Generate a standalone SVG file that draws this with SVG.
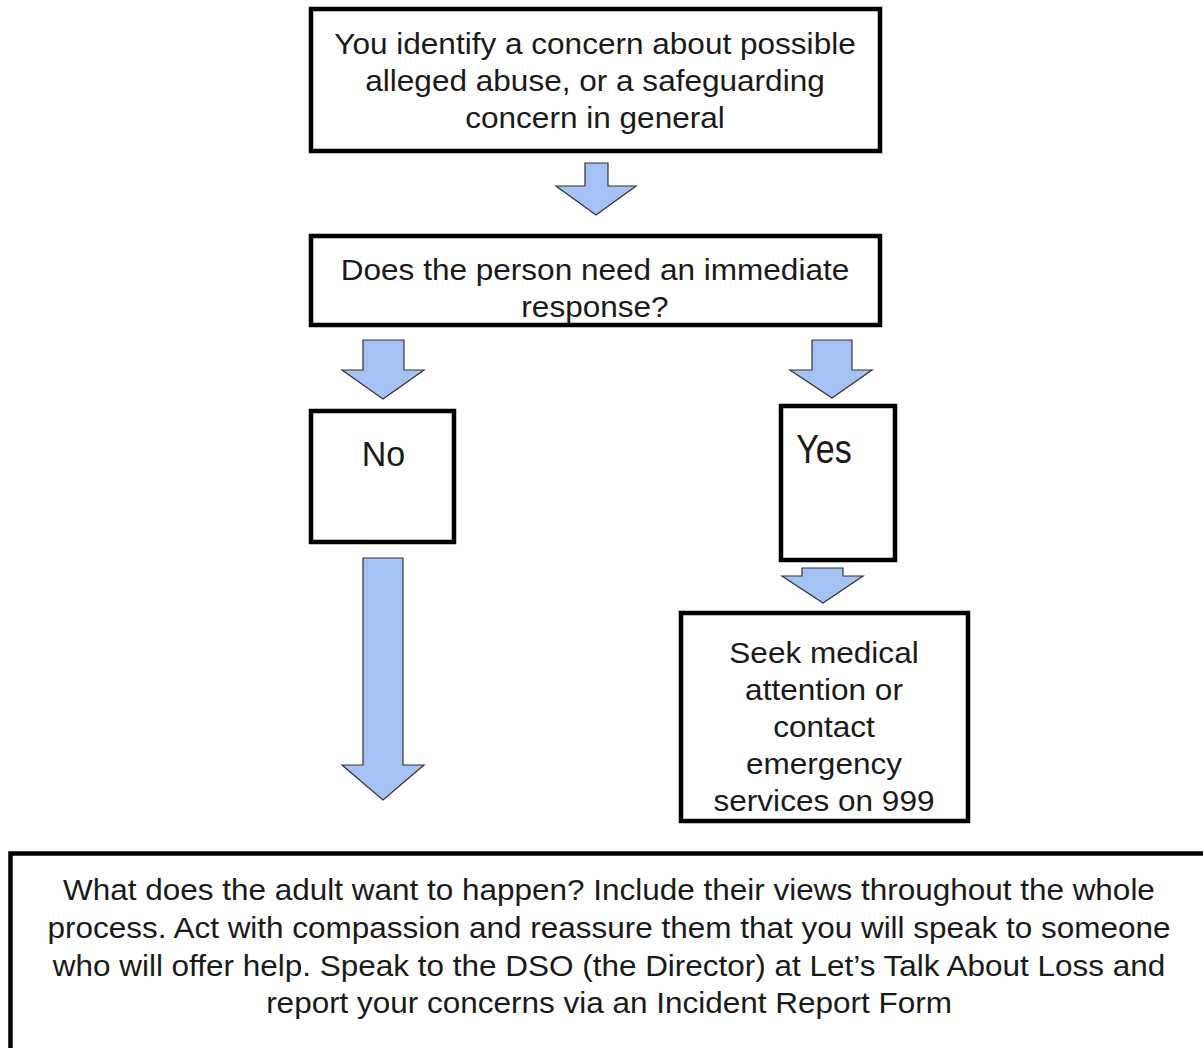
<svg xmlns="http://www.w3.org/2000/svg" width="1203" height="1048" viewBox="0 0 1203 1048">
<style>
.box{fill:#ffffff;stroke:#000000;stroke-width:4.5}
.arr{fill:#a4c2f4;stroke:#333333;stroke-width:1.2;stroke-linejoin:miter}
text{font-family:"Liberation Sans",Arial,sans-serif;fill:#1a1a1a;text-anchor:middle;font-size:29.5px}
.big{font-size:34px}
</style>
<rect width="1203" height="1048" fill="#ffffff"/>
<g id="connectors">
<polygon class="arr" points="585,163 608,163 608,186 636,186 596,215 556,186 585,186"/>
<polygon class="arr" points="363,340 404,340 404,370 424,370 383,399 342,370 363,370"/>
<polygon class="arr" points="812,340 852,340 852,370 872,370 832,398 790,370 812,370"/>
<polygon class="arr" points="363,558 403,558 403,765 424,765 383,800 342,765 363,765"/>
<polygon class="arr" points="802,568 843,568 843,576 863,576 823,603 782,576 802,576"/>
</g>
<g id="node-concern">
<rect class="box" x="311" y="9" width="569" height="142"/>
<text transform="translate(595,54) scale(1.07,1)">You identify a concern about possible</text>
<text transform="translate(595,91) scale(1.07,1)">alleged abuse, or a safeguarding</text>
<text transform="translate(595,128) scale(1.07,1)">concern in general</text>
</g>
<g id="node-question">
<rect class="box" x="311" y="236" width="569" height="89"/>
<text transform="translate(595,280) scale(1.07,1)">Does the person need an immediate</text>
<text transform="translate(595,317) scale(1.07,1)">response?</text>
</g>
<g id="node-no">
<rect class="box" x="311" y="411" width="143" height="131"/>
<text class="big" transform="translate(383.5,466) scale(1,1.05)">No</text>
</g>
<g id="node-yes">
<rect class="box" x="781" y="406" width="114" height="154"/>
<text class="big" transform="translate(824,463) scale(1,1.2)">Yes</text>
</g>
<g id="node-seek">
<rect class="box" x="681" y="613" width="287" height="208"/>
<text transform="translate(824,663) scale(1.07,1)">Seek medical</text>
<text transform="translate(824,700) scale(1.07,1)">attention or</text>
<text transform="translate(824,737) scale(1.07,1)">contact</text>
<text transform="translate(824,774) scale(1.07,1)">emergency</text>
<text transform="translate(824,811) scale(1.07,1)">services on 999</text>
</g>
<g id="node-adult">
<rect class="box" x="10.5" y="853.5" width="1198" height="200"/>
<text transform="translate(609,900) scale(1.067,1)">What does the adult want to happen? Include their views throughout the whole</text>
<text transform="translate(609,938) scale(1.067,1)">process. Act with compassion and reassure them that you will speak to someone</text>
<text transform="translate(609,976) scale(1.067,1)">who will offer help. Speak to the DSO (the Director) at Let’s Talk About Loss and</text>
<text transform="translate(609,1013) scale(1.067,1)">report your concerns via an Incident Report Form</text>
</g>
</svg>
